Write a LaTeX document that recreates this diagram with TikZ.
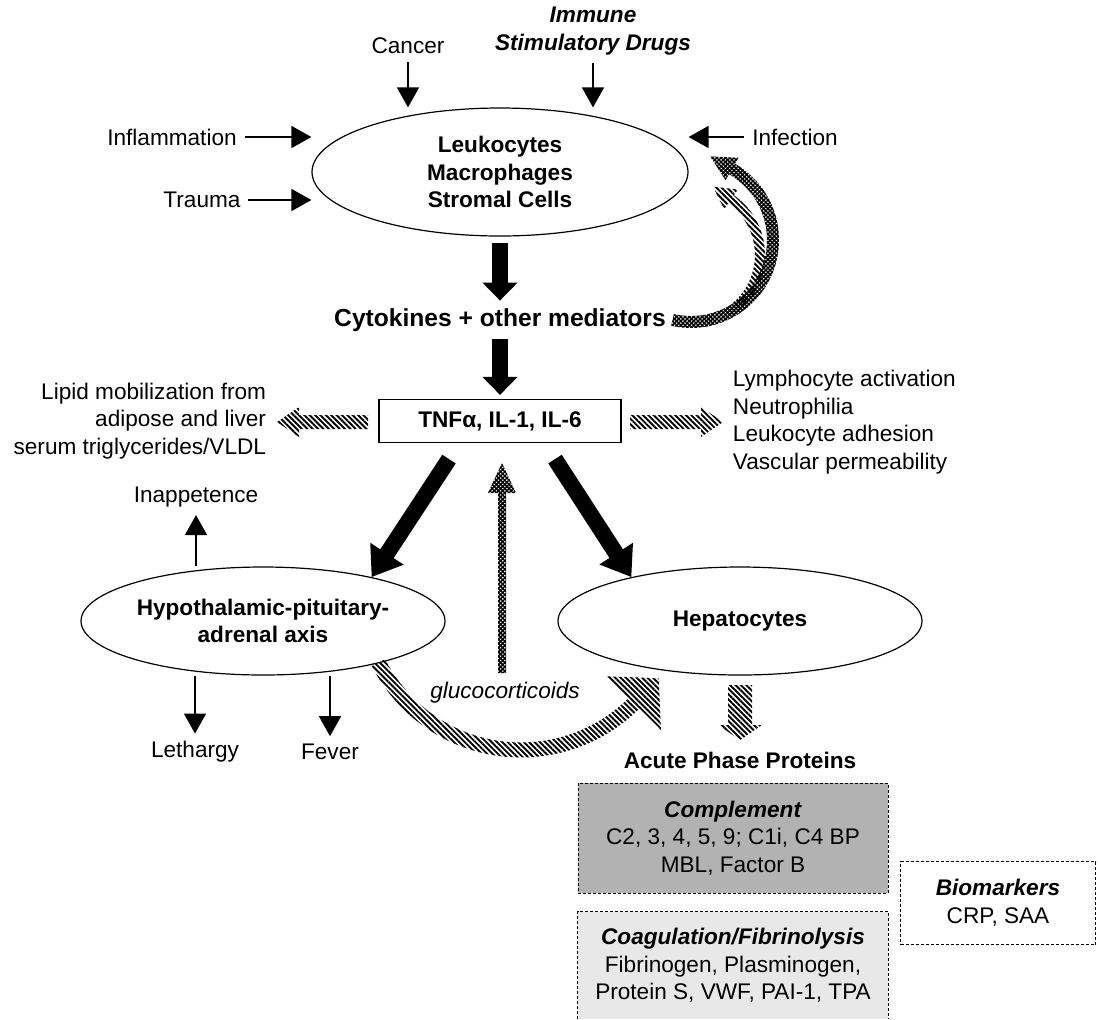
\documentclass[tikz,border=0pt]{standalone}
\usepackage{fontspec}
\setmainfont{Liberation Sans}
\usetikzlibrary{shapes.geometric,arrows.meta,calc,patterns.meta}
\begin{document}
\fontsize{11.3pt}{13.8pt}\selectfont
\begin{tikzpicture}[x=0.5pt,y=-0.5pt,
        arr/.style={line width=.8pt,-{Triangle[width=11pt,length=10pt]}},
        blk/.style={line width=8pt,-{Triangle[width=17pt,length=9pt]}},
        oval/.style={draw,ellipse,line width=.6pt,inner sep=0pt,align=center,font=\bfseries},
        lines/.style={pattern={Lines[angle=-45,distance=1.9pt,line width=.95pt]}},
        checks/.style={pattern={Hatch[angle=45,distance=1.5pt,line width=.75pt]}},
        dashbox/.style={dash pattern=on 1.5pt off 1pt,line width=.5pt}]
        \useasboundingbox (0,0) rectangle (1098,1019);
        \node[oval,minimum width=188pt,minimum height=64pt] (L) at (500,172) {Leukocytes\\Macrophages\\Stromal Cells};
        \node[font=\bfseries\itshape,align=center] (D) at (593,31) {Immune\\Stimulatory Drugs};
        \node (Ca) at (408,46) {Cancer};
        \node (In) at (172,137) {Inflammation};
        \node (Tr) at (202,200) {Trauma};
        \node (If) at (795,137) {Infection};
        \node[font=\fontsize{12.3pt}{14pt}\selectfont\bfseries] (Cy) at (500,320) {Cytokines + other mediators};
        \node[draw,line width=.6pt,minimum width=121pt,minimum height=21.5pt,font=\bfseries] (T) at (500,421) {TNFα, IL-1, IL-6};
        \node[anchor=east,align=right] (Lp) at (274,421) {Lipid mobilization from\\adipose and liver\\serum triglycerides/VLDL};
        \node[anchor=west,align=left] (Ly) at (725,422) {Lymphocyte activation\\Neutrophilia\\Leukocyte adhesion\\Vascular permeability};
        \node[oval,minimum width=182pt,minimum height=54pt] (H) at (263,621) {Hypothalamic-pituitary-\\adrenal axis};
        \node[oval,minimum width=182pt,minimum height=54pt] (P) at (740,621) {Hepatocytes};
        \node (Ip) at (196,497) {Inappetence};
        \node (Le) at (195,752) {Lethargy};
        \node (Fe) at (330,752) {Fever};
        \node[font=\itshape] (G) at (505,693) {glucocorticoids};
        \node[font=\bfseries] (A) at (740,760) {Acute Phase Proteins};
        \node[draw,dashbox,fill=black!30,minimum width=155pt,minimum height=55pt,align=center] (Cm) at (733,838) {\textbf{\textit{Complement}}\\C2, 3, 4, 5, 9; C1i, C4 BP\\MBL, Factor B};
        \node[fill=black!9,minimum width=155pt,minimum height=53.5pt,align=center] (Co) at (733,965.5) {\textbf{\textit{Coagulation/Fibrinolysis}}\\Fibrinogen, Plasminogen,\\Protein S, VWF, PAI-1, TPA};
        \draw[dashbox] (Co.south west) -- (Co.north west) -- (Co.north east) -- (Co.south east);
        \node[draw,dashbox,minimum width=97.5pt,minimum height=41.5pt,align=center] (B) at (998,903) {\textbf{\textit{Biomarkers}}\\CRP, SAA};
        \draw[arr] (Ca) -- (Ca |- L.north);
        \draw[arr] (D) -- (D |- L.north);
        \draw[arr] (In) -- (In -| L.west);
        \draw[arr] (Tr) -- (Tr -| L.west);
        \draw[arr] (If) -- (If -| L.east);
        \draw[blk,shorten <=3pt] (L) -- (Cy);
        \draw[blk,shorten >=2pt] (Cy) -- (T);
        \draw[blk,-{Triangle[width=19pt,length=14pt]}] ($(T.south)+(-51,16)$) -- (H.22);
        \draw[blk,-{Triangle[width=19pt,length=14pt]}] ($(T.south)+(55,16)$) -- (P.158);
        \draw[arr] (Ip.south |- H.north) -- (Ip);
        \draw[arr] (Le.north |- H.south) -- (Le);
        \draw[arr] (Fe.north |- H.south) -- (Fe);
        \path[lines] (368,415) -- (299,415) -- (299,407) -- (277,422) -- (299,437) -- (299,429) -- (368,429) -- cycle;
        \path[lines] (630,415) -- (701,415) -- (701,407) -- (723,422) -- (701,437) -- (701,429) -- (630,429) -- cycle;
        \path[checks] (498,673) -- (498,493) -- (488,493) -- (502,463) -- (516,493) -- (506,493) -- (506,673) -- cycle;
        \path[lines] (728,685) -- (728,725) -- (718,725) -- (740,740) -- (762,725) -- (752,725) -- (752,685) -- cycle;
        \path[lines] (371.8,666) arc[start angle=153,end angle=45,radius=167.5] -- (661,730) -- (658.7,678.3) -- (607.3,676.3) -- (628.8,697.8) arc[start angle=45,end angle=153,radius=152.5] -- cycle;
        \path[lines] (739.4,310.5) arc[start angle=49.5,end angle=-55,radius=73] -- (737.9,189.5) -- (713,186.7) -- (724.1,209.1) -- (728.1,203.4) arc[start angle=-55,end angle=49.5,radius=63] -- cycle;
        \path[checks] (671.2,325.7) arc[start angle=103,end angle=-60,radius=88] -- (738.5,157.7) -- (710.3,156.5) -- (725.5,180.2) -- (729,174.2) arc[start angle=-60,end angle=103,radius=76] -- cycle;
\end{tikzpicture}
\end{document}
